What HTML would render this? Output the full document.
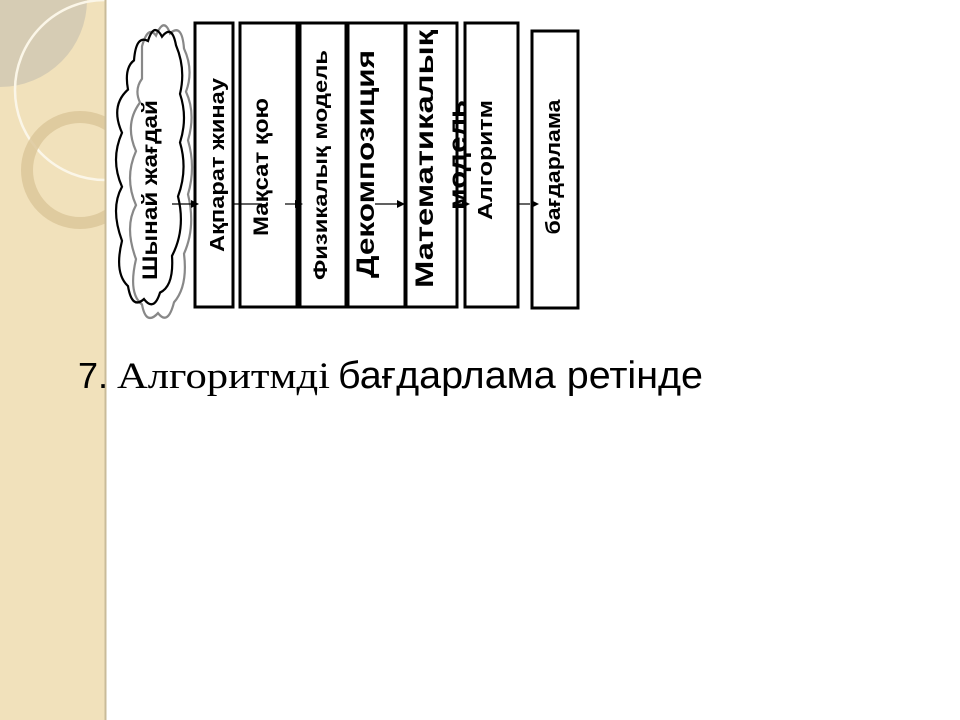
<!DOCTYPE html>
<html><head><meta charset="utf-8"><style>
html,body{margin:0;padding:0;background:#fff;width:960px;height:720px;overflow:hidden}
svg{display:block}
</style></head><body>
<svg width="960" height="720" viewBox="0 0 960 720" xmlns="http://www.w3.org/2000/svg">
<defs>
<clipPath id="side"><rect x="0" y="0" width="105" height="720"/></clipPath>
</defs>
<rect x="0" y="0" width="105" height="720" fill="#f1e1bb"/>
<g clip-path="url(#side)">
<circle cx="0" cy="0" r="87" fill="#d6ccb4"/>
<circle cx="105" cy="90" r="90" fill="none" stroke="#fbf6e8" stroke-width="2.5"/>
<circle cx="80" cy="170" r="53" fill="none" stroke="#dcc79a" stroke-width="12" opacity="0.85"/>
</g>
<line x1="105.5" y1="0" x2="105.5" y2="720" stroke="#c9bb99" stroke-width="2"/>

<!-- cloud -->
<g fill="none" stroke-width="2.2" transform="translate(0,28) scale(1,1.08) translate(0,-28)">
<path stroke="#888" d="M142 45 q6-20 14-10 q8-18 14 -2 q12-10 14 14 q10 20 2 40 q10 20 2 45 q8 25 0 50 q8 30-4 55 q4 30-10 45 q-6 22-16 10 q-12 12-16-8 q-14-10-6-42 q-12-30 0-50 q-12-25 0-50 q-12-25 4-45 q-6-12 2-22z"/>
<path stroke="#000" d="M134 58 q2-24 14-18 q6-18 14-4 q10-12 14 8 q10 22 4 45 q8 22 0 45 q8 25-2 50 q8 30-6 55 q2 28-12 34 q-6 18-16 6 q-12 10-16-12 q-14-12-6-42 q-12-30 0-50 q-12-25 0-50 q-12-25 6-40 q-4-20 6-27z"/>
</g>
<text transform="translate(157,190) rotate(-90)" text-anchor="middle" font-family="Liberation Sans, sans-serif" font-weight="bold" font-size="21" textLength="180" lengthAdjust="spacingAndGlyphs">Шынай жағдай</text>

<g fill="#fff" stroke="#000" stroke-width="3">
<rect x="195" y="23" width="38" height="284"/>
<rect x="240" y="23" width="57" height="284"/>
<rect x="300" y="23" width="46" height="284"/>
<rect x="348" y="23" width="57" height="284"/>
<rect x="406" y="23" width="51" height="284"/>
<rect x="465" y="23" width="53" height="284"/>
<rect x="532" y="31" width="46" height="277"/>
</g>
<g font-family="Liberation Sans, sans-serif" font-weight="bold" text-anchor="middle">
<text transform="translate(224,165) rotate(-90)" font-size="20" textLength="174" lengthAdjust="spacingAndGlyphs">Ақпарат жинау</text>
<text transform="translate(268,167) rotate(-90)" font-size="21" textLength="138" lengthAdjust="spacingAndGlyphs">Мақсат қою</text>
<text transform="translate(327,165) rotate(-90)" font-size="19" textLength="230" lengthAdjust="spacingAndGlyphs">Физикалық модель</text>
<text transform="translate(374,164) rotate(-90)" font-size="25" textLength="228" lengthAdjust="spacingAndGlyphs">Декомпозиция</text>
<text transform="translate(433,159) rotate(-90)" font-size="25" textLength="258" lengthAdjust="spacingAndGlyphs">Математикалық</text>
<text transform="translate(466,155) rotate(-90)" font-size="25" textLength="110" lengthAdjust="spacingAndGlyphs">модель</text>
<text transform="translate(492,160) rotate(-90)" font-size="20" textLength="120" lengthAdjust="spacingAndGlyphs">Алгоритм</text>
<text transform="translate(560,167) rotate(-90)" font-size="20" textLength="135" lengthAdjust="spacingAndGlyphs">бағдарлама</text>
</g>
<g stroke="#000" stroke-width="1.2">
<line x1="172" y1="204" x2="192" y2="204"/>
<line x1="233" y1="204" x2="262" y2="204"/>
<line x1="285" y1="204" x2="296" y2="204"/>
<line x1="375" y1="204" x2="403" y2="204"/>
<line x1="458" y1="204" x2="462" y2="204"/>
<line x1="518" y1="204" x2="530" y2="204"/>
</g>
<g fill="#000">
<polygon points="199,204 191,200 191,208"/>
<polygon points="303,204 295,200 295,208"/>
<polygon points="405,204 397,200 397,208"/>
<polygon points="470,204 462,200 462,208"/>
<polygon points="539,204 531,200 531,208"/>
</g>

<text x="78" y="388" font-size="36" font-family="Liberation Sans, sans-serif">7.</text>
<text x="117" y="388" font-size="37" font-family="Liberation Serif, serif" textLength="213" lengthAdjust="spacingAndGlyphs">Алгоритмді</text>
<text x="338" y="388" font-size="38" font-family="Liberation Sans, sans-serif" textLength="365" lengthAdjust="spacingAndGlyphs">бағдарлама ретінде</text>
</svg>
</body></html>
